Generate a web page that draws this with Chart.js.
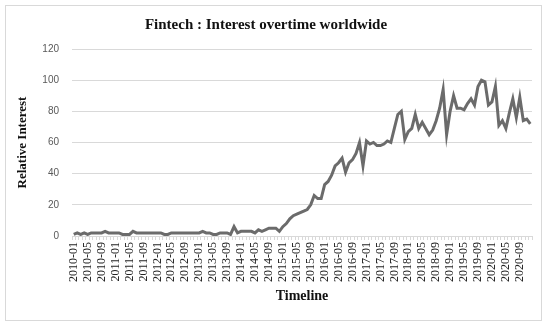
<!DOCTYPE html>
<html>
<head>
<meta charset="utf-8">
<script src="https://cdn.jsdelivr.net/npm/chart.js@4.4.1/dist/chart.umd.min.js"></script>
<style>
    html, body { margin: 0; padding: 0; background: #ffffff; }
    #wrap { position: relative; width: 550px; height: 327px; }
</style>
</head>
<body>
<div id="wrap"><canvas id="trendChart" width="550" height="327"></canvas></div>
<script>
// Google Trends style monthly interest, 2010-01 .. 2020-12
var years = ["2010", "2011", "2012", "2013", "2014", "2015", "2016", "2017", "2018", "2019", "2020"];
var monthNums = ["01", "02", "03", "04", "05", "06", "07", "08", "09", "10", "11", "12"];

var interest2010 = [1, 2, 1, 2, 1, 2, 2, 2, 2, 3, 2, 2];
var interest2011 = [2, 2, 1, 1, 1, 3, 2, 2, 2, 2, 2, 2];
var interest2012 = [2, 2, 1, 1, 2, 2, 2, 2, 2, 2, 2, 2];
var interest2013 = [2, 3, 2, 2, 1, 1, 2, 2, 2, 1, 6, 2];
var interest2014 = [3, 3, 3, 3, 2, 4, 3, 4, 5, 5, 5, 3];
var interest2015 = [6, 8, 11, 13, 14, 15, 16, 17, 20, 26, 24, 24];
var interest2016 = [33, 35, 39, 45, 47, 50, 41, 47, 49, 53, 60, 45];
var interest2017 = [61, 59, 60, 58, 58, 59, 61, 60, 69, 78, 80, 62];
var interest2018 = [67, 69, 78, 69, 73, 69, 65, 68, 74, 82, 94, 65];
var interest2019 = [80, 90, 82, 82, 81, 85, 88, 84, 96, 100, 99, 84];
var interest2020 = [86, 96, 71, 74, 69, 79, 88, 76, 89, 74, 75, 72];

var yTicks = [0, 20, 40, 60, 80, 100, 120];

var labels = [];
years.forEach(function (y) {
    monthNums.forEach(function (m) {
        labels.push(y + "-" + m);
    });
});

var values = [].concat(interest2010, interest2011, interest2012, interest2013, interest2014,
    interest2015, interest2016, interest2017, interest2018, interest2019, interest2020);

// light grey frame round the whole chart, like the Excel chart border
var frame = {
    id: "frame",
    beforeDraw: function (chart) {
        var ctx = chart.ctx;
        ctx.save();
        ctx.fillStyle = "#ffffff";
        ctx.fillRect(0, 0, chart.width, chart.height);
        ctx.strokeStyle = "#d9d9d9";
        ctx.lineWidth = 1;
        ctx.strokeRect(5.5, 5.5, 536, 315);
        ctx.restore();
    }
};

var ctx = document.getElementById("trendChart").getContext("2d");
new Chart(ctx, {
    type: "line",
    data: {
        labels: labels,
        datasets: [{
            label: "Fintech",
            data: values,
            borderColor: "#6b6b6b",
            borderWidth: 3,
            pointRadius: 0,
            tension: 0,
            fill: false
        }]
    },
    options: {
        responsive: false,
        animation: false,
        layout: {
            padding: { left: 0, right: 18, top: 0, bottom: 18 }
        },
        plugins: {
            legend: { display: false },
            tooltip: { enabled: false },
            title: {
                display: true,
                text: "Fintech : Interest overtime worldwide",
                color: "#111111",
                font: { family: "Liberation Serif", size: 15, weight: "bold" },
                padding: { top: 16, bottom: 15 }
            }
        },
        scales: {
            x: {
                offset: true,
                grid: {
                    display: true,
                    drawOnChartArea: false,
                    drawTicks: true,
                    tickLength: 4,
                    color: "#d9d9d9",
                    offset: true
                },
                border: { color: "#d9d9d9" },
                ticks: {
                    autoSkip: false,
                    maxRotation: 90,
                    minRotation: 90,
                    padding: 2,
                    color: "#222222",
                    font: { family: "Liberation Serif", size: 12 },
                    callback: function (val, i) {
                        return i % 4 === 0 ? labels[i] : "";
                    }
                },
                title: {
                    display: true,
                    text: "Timeline",
                    color: "#111111",
                    font: { family: "Liberation Serif", size: 14, weight: "bold" },
                    padding: { top: 4, bottom: 4 }
                },
                afterFit: function (scale) {
                    scale.height = 73;
                }
            },
            y: {
                min: 0,
                max: 120,
                afterBuildTicks: function (scale) {
                    scale.ticks = yTicks.map(function (v) { return { value: v }; });
                },
                grid: {
                    color: "#d9d9d9",
                    drawTicks: false
                },
                border: { display: false },
                ticks: {
                    padding: 13,
                    color: "#595959",
                    font: { family: "Liberation Sans", size: 10 }
                },
                title: {
                    display: true,
                    text: "Relative Interest",
                    color: "#111111",
                    font: { family: "Liberation Serif", size: 13, weight: "bold" },
                    padding: { top: 15, bottom: 4 }
                },
                afterFit: function (scale) {
                    scale.width = 72;
                }
            }
        }
    },
    plugins: [frame]
});
</script>
</body>
</html>
